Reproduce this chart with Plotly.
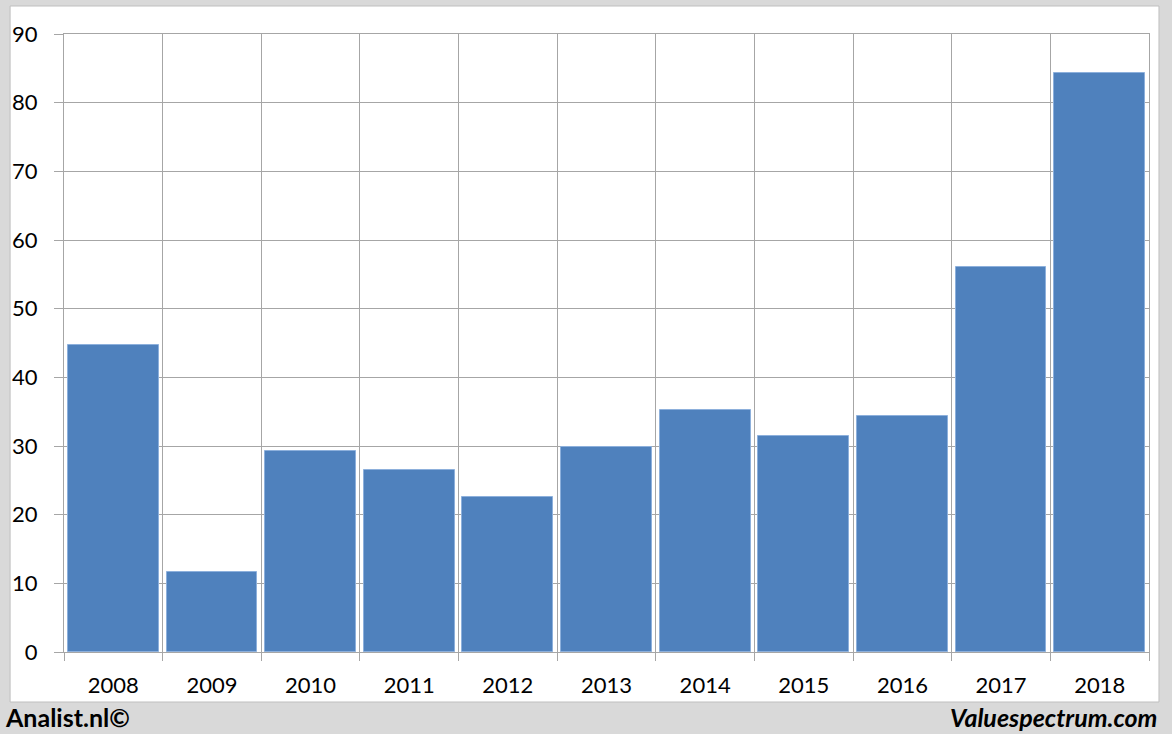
import plotly.graph_objects as go

years = [2008, 2009, 2010, 2011, 2012, 2013, 2014, 2015, 2016, 2017, 2018]
values = [44.7, 11.6, 29.2, 26.5, 22.6, 29.8, 35.2, 31.4, 34.3, 56.1, 84.3]
y_ticks = [0, 10, 20, 30, 40, 50, 60, 70, 80, 90]

FONT = "Lato"
GRID = "#a6a6a6"

fig = go.Figure()
fig.add_trace(go.Bar(
    x=years, y=values, width=0.92,
    marker=dict(color="#4f81bd", line=dict(color="#8db0dc", width=1)),
    hoverinfo="x+y",
))

W, H = 1172, 734
L, R, T, B = 62, 23, 34, 82
pw, ph = W - L - R, H - T - B

def px_x(p):
    return (p - L) / pw

def px_y(p):
    return (H - B - p) / ph

fig.update_layout(
    width=W, height=H,
    margin=dict(l=L, r=R, t=T, b=B),
    paper_bgcolor="#d9d9d9",
    plot_bgcolor="white",
    showlegend=False,
    bargap=0,
    xaxis=dict(
        range=[years[0] - 0.5, years[-1] + 0.5],
        tickvals=years, ticktext=[str(y) for y in years],
        showgrid=False, ticks="", zeroline=False,
        showline=True, linecolor=GRID, linewidth=1, mirror=True,
        tickfont=dict(family=FONT, size=22, color="black"),
        ticklabelstandoff=14,
        minor=dict(tick0=years[0] - 0.5, dtick=1, showgrid=True, gridcolor=GRID,
                   gridwidth=1, ticks="outside", ticklen=8, tickcolor=GRID),
        fixedrange=True,
    ),
    yaxis=dict(
        range=[0, 90], tickvals=y_ticks,
        showgrid=True, gridcolor=GRID, gridwidth=1, zeroline=False,
        showline=True, linecolor=GRID, linewidth=1, mirror=True,
        ticks="outside", ticklen=9, tickcolor=GRID,
        tickfont=dict(family=FONT, size=22, color="black"),
        ticklabelstandoff=12,
        fixedrange=True,
    ),
    shapes=[dict(
        type="rect", xref="paper", yref="paper",
        x0=px_x(8), x1=px_x(1159), y0=px_y(702), y1=px_y(6),
        fillcolor="white", line=dict(color="#bfbfbf", width=1), layer="below",
    )],
    annotations=[
        dict(text="<b>Analist.nl©</b>", xref="paper", yref="paper",
             x=px_x(1), y=px_y(717), xanchor="left", yanchor="middle",
             showarrow=False, font=dict(family=FONT, size=25, color="black")),
        dict(text="<b><i>Valuespectrum.com</i></b>", xref="paper", yref="paper",
             x=px_x(1159), y=px_y(717), xanchor="right", yanchor="middle",
             showarrow=False, font=dict(family=FONT, size=25, color="black")),
    ],
)

fig.write_html("out.html", config={"displayModeBar": False},
               post_script="document.body.style.margin='0';document.body.style.overflow='hidden';")
